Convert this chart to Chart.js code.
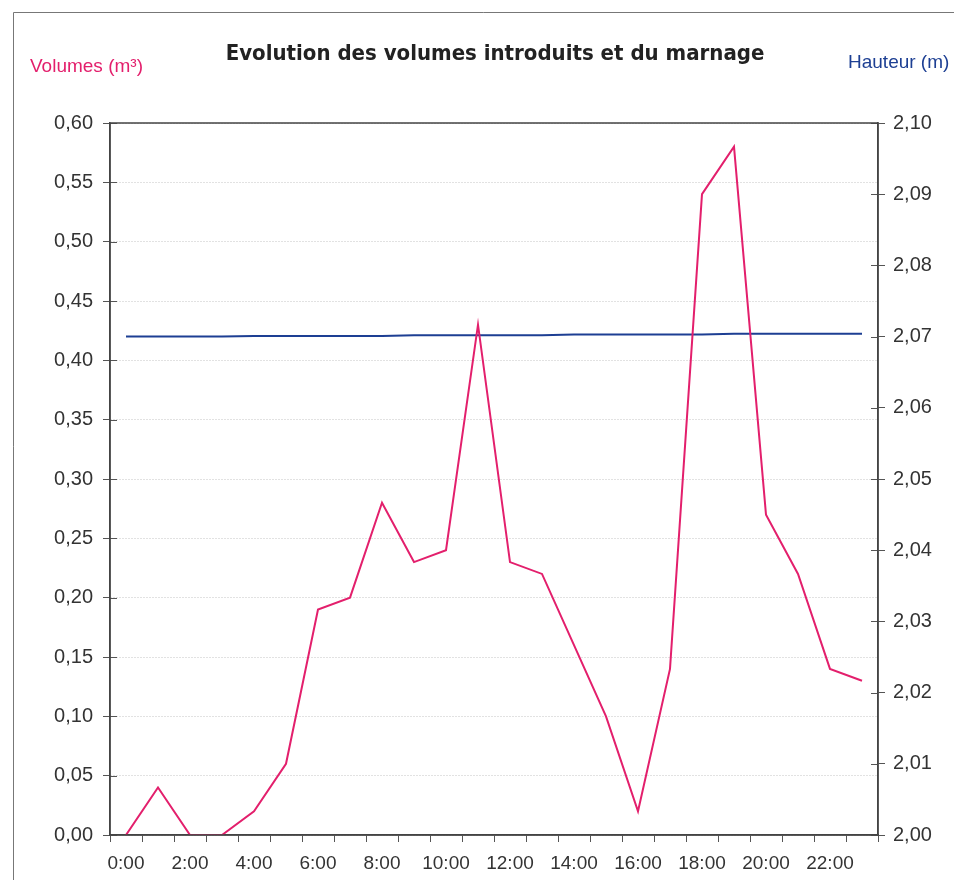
<!DOCTYPE html>
<html>
<head>
<meta charset="utf-8">
<script src="https://cdn.jsdelivr.net/npm/chart.js@4"></script>
<style>
  html, body { margin: 0; padding: 0; background: #fff; }
  #wrap { position: relative; width: 954px; height: 880px; }
  canvas { display: block; }
</style>
</head>
<body>
<div id="wrap"><canvas id="chart" width="954" height="880"></canvas></div>
<script>
// hourly categories
const hours = ['0:00','1:00','2:00','3:00','4:00','5:00','6:00','7:00','8:00','9:00','10:00','11:00',
  '12:00','13:00','14:00','15:00','16:00','17:00','18:00','19:00','20:00','21:00','22:00','23:00'];

// volumes introduits (m3)
const volumes = [0.00, 0.04, 0.00, 0.00, 0.02, 0.06, 0.19, 0.20, 0.28, 0.23, 0.24, 0.43,
  0.23, 0.22, 0.16, 0.10, 0.02, 0.14, 0.54, 0.58, 0.27, 0.22, 0.14, 0.13];

// hauteur d'eau (m)
const hauteur = [2.0700, 2.0700, 2.0700, 2.0700, 2.0701, 2.0701, 2.0701, 2.0701, 2.0701, 2.0702, 2.0702, 2.0702,
  2.0702, 2.0702, 2.0703, 2.0703, 2.0703, 2.0703, 2.0703, 2.0704, 2.0704, 2.0704, 2.0704, 2.0704];

const title = 'Evolution des volumes introduits et du marnage';
const leftTitle = 'Volumes (m³)';
const rightTitle = 'Hauteur (m)';

const PINK = '#e31f6c';
const BLUE = '#1d3f93';
const FONT = '"Liberation Sans", "DejaVu Sans", sans-serif';

const comma = (v, d) => Number(v).toFixed(d).replace('.', ',');

// titles, page frame, inner tick marks and chart box
const decor = {
  id: 'decor',
  afterDraw(chart) {
    const { ctx, chartArea: a } = chart;
    ctx.save();
    // scanned page frame
    ctx.strokeStyle = '#777';
    ctx.lineWidth = 1;
    ctx.beginPath();
    ctx.moveTo(13.5, 880);
    ctx.lineTo(13.5, 12.5);
    ctx.lineTo(954, 12.5);
    ctx.stroke();

    ctx.textBaseline = 'alphabetic';
    ctx.fillStyle = '#222';
    ctx.font = 'bold 22px "DejaVu Sans Condensed", "Liberation Sans Narrow", sans-serif';
    ctx.textAlign = 'center';
    ctx.fillText(title, 495, 60);

    ctx.font = '19px ' + FONT;
    ctx.textAlign = 'left';
    ctx.fillStyle = PINK;
    ctx.fillText(leftTitle, 30, 72);
    ctx.fillStyle = BLUE;
    ctx.fillText(rightTitle, 848, 68);

    // inner halves of tick marks
    ctx.strokeStyle = '#555';
    ctx.lineWidth = 1;
    ctx.beginPath();
    const yl = chart.scales.y;
    yl.ticks.forEach((t, i) => {
      const p = Math.round(yl.getPixelForTick(i)) + 0.5;
      ctx.moveTo(a.left, p); ctx.lineTo(a.left + 7, p);
    });
    const yr = chart.scales.y1;
    yr.ticks.forEach((t, i) => {
      const p = Math.round(yr.getPixelForTick(i)) + 0.5;
      ctx.moveTo(a.right - 7, p); ctx.lineTo(a.right, p);
    });
    ctx.stroke();

    // plot box
    ctx.strokeStyle = '#444';
    ctx.lineWidth = 1.5;
    ctx.strokeRect(a.left, a.top, a.right - a.left, a.bottom - a.top);
    ctx.restore();
  }
};

new Chart(document.getElementById('chart'), {
  type: 'line',
  data: {
    labels: hours,
    datasets: [
      {
        label: 'Volumes',
        data: volumes,
        borderColor: PINK,
        borderWidth: 2,
        pointRadius: 0,
        tension: 0,
        yAxisID: 'y'
      },
      {
        label: 'Hauteur',
        data: hauteur,
        borderColor: BLUE,
        borderWidth: 2,
        pointRadius: 0,
        tension: 0,
        yAxisID: 'y1'
      }
    ]
  },
  options: {
    responsive: false,
    animation: false,
    devicePixelRatio: 1,
    layout: { padding: { top: 123, left: 0, right: 0, bottom: 0 } },
    plugins: {
      legend: { display: false },
      tooltip: { enabled: false }
    },
    scales: {
      x: {
        type: 'category',
        offset: true,
        afterFit(s) { s.height = 45; },
        grid: {
          offset: true,
          drawOnChartArea: false,
          tickLength: 7,
          color: '#555'
        },
        border: { display: true, color: '#444', width: 1.5 },
        ticks: {
          autoSkip: false,
          maxRotation: 0,
          padding: 10,
          color: '#333',
          font: { family: FONT, size: 19 },
          callback(v, i) { return i % 2 === 0 ? hours[i] : ''; }
        }
      },
      y: {
        position: 'left',
        min: 0,
        max: 0.6,
        afterFit(s) { s.width = 110; },
        grid: {
          color: '#c4c4c4',
          tickColor: '#555',
          tickLength: 7,
          lineWidth: 1
        },
        border: { display: true, color: '#444', width: 1.5, dash: [1, 2] },
        ticks: {
          stepSize: 0.05,
          padding: 10,
          color: '#333',
          font: { family: FONT, size: 20 },
          callback: v => comma(v, 2)
        }
      },
      y1: {
        position: 'right',
        min: 2.0,
        max: 2.1,
        afterFit(s) { s.width = 76; },
        grid: {
          drawOnChartArea: false,
          tickColor: '#555',
          tickLength: 7
        },
        border: { display: true, color: '#444', width: 1.5 },
        ticks: {
          stepSize: 0.01,
          padding: 8,
          color: '#333',
          font: { family: FONT, size: 20 },
          callback: v => comma(v, 2)
        }
      }
    }
  },
  plugins: [decor]
});
</script>
</body>
</html>
